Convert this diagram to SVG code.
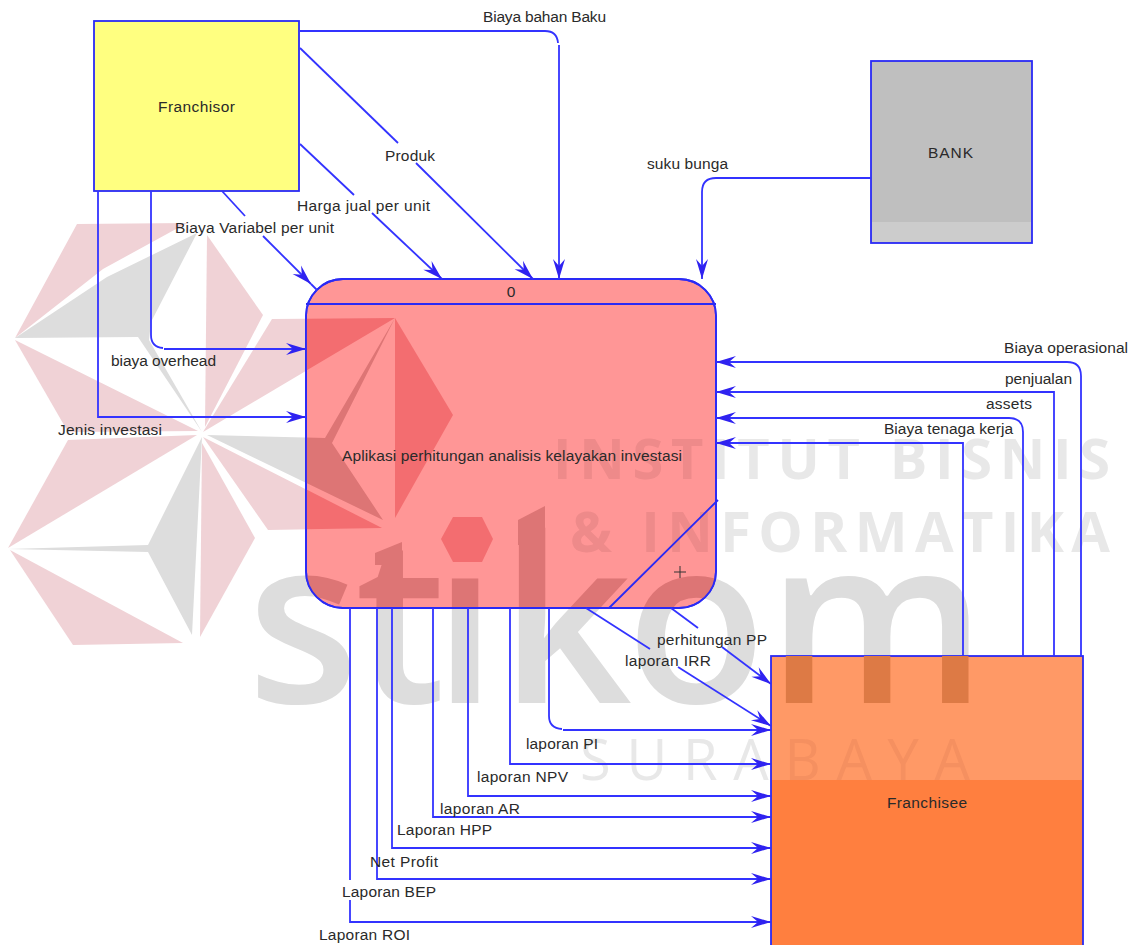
<svg xmlns="http://www.w3.org/2000/svg" width="1133" height="945" viewBox="0 0 1133 945">
<style>
.lbl{font-family:"Liberation Sans",Arial,sans-serif;font-size:15.5px;fill:#2a2a2a;text-anchor:start}
.ctr{text-anchor:middle}
.con{fill:none;stroke:#3333ff;stroke-width:1.8}
.arr{marker-end:url(#arr)}
.box{stroke:#2a2af5;stroke-width:1.8}
.wb{font-family:"Open Sans","DejaVu Sans",sans-serif;font-weight:700;font-size:56px}
.ws{font-family:"Open Sans","DejaVu Sans",sans-serif;font-weight:400;font-size:56px}
.wk{font-family:"Open Sans","DejaVu Sans",sans-serif;font-weight:600;font-size:230px}
</style>
<defs>
<marker id="arr" markerUnits="userSpaceOnUse" markerWidth="22" markerHeight="14" refX="20" refY="7" orient="auto" viewBox="0 0 20 14"><path d="M20,7 L0,1 L7,7 L0,13 Z" fill="#2f22f0"/></marker>
<g id="wm-red">
<polygon points="15,338 77,224 187,223 103,269"/>
<polygon points="207,235 263,315 205,427"/>
<polygon points="272,319 395,318 203,432"/>
<polygon points="15,340 198,431 68,432"/>
<polygon points="68,440 197,435 8,548"/>
<polygon points="203,437 382,528 268,530"/>
<polygon points="395,318 453,415 395,518"/>
<polygon points="202,443 255,538 200,637"/>
<polygon points="10,550 183,643 73,645"/>
<polygon points="441,539 453,517 482,517 493,539 482,562 453,562"/>
</g>
<g id="wm-gray">
<polygon points="15,338 107,277 197,233 151,322 149,340 202,432 138,337"/>
<polygon points="207,435 325,438 395,318 332,443 383,520"/>
<polygon points="202,437 192,635 148,552 8,549 148,545"/>
<text class="wk" x="247 355 433 500 626 767" y="703">stikom</text>
<polygon points="518,520 545,506 545,545 518,545"/>
<polygon points="375,553 402,542 402,565 375,565"/>
</g>
<g id="wm-text">
<text class="wb" x="553" y="479" textLength="557">INSTITUT BISNIS</text>
<text class="wb" x="570" y="552" textLength="540">&amp; INFORMATIKA</text>
<text class="ws" x="580" y="780" textLength="390">SURABAYA</text>
</g>
<clipPath id="cp-proc"><rect x="306" y="279" width="410" height="329" rx="37"/></clipPath>
<clipPath id="cp-fran"><rect x="771" y="656" width="312" height="124"/></clipPath>
</defs>
<rect width="1133" height="945" fill="#fff"/>
<g id="watermark">
<use href="#wm-red" fill="#f0d2d6"/>
<use href="#wm-gray" fill="#dddddd"/>
<use href="#wm-text" fill="#e8e8e8"/>
</g>
<g id="node-franchisor">
<rect class="box" x="94" y="21" width="205" height="170" fill="#ffff80"/>
<text class="lbl" x="158" y="112" textLength="77">Franchisor</text>
</g>
<g id="node-bank">
<rect class="box" x="871" y="61" width="161" height="182" fill="#bfbfbf"/>
<rect x="872" y="222" width="159" height="20" fill="#cccccc"/>
<text class="lbl" x="928" y="158" textLength="45">BANK</text>
</g>
<g id="node-process">
<rect class="box" x="306" y="279" width="410" height="329" rx="37" fill="#ff9696"/>
<g clip-path="url(#cp-proc)">
<use href="#wm-text" fill="#ee8a8a"/>
<use href="#wm-gray" fill="#dd7575"/>
<use href="#wm-red" fill="#f36d70"/>
</g>
<path class="box" fill="none" d="M306,304H716M718,500L609,608"/>
<path fill="none" stroke="#333" stroke-width="1" d="M674,572H686M680,566V578"/>
<rect x="306" y="279" width="410" height="329" rx="37" fill="none" class="box"/>
<text class="lbl ctr" x="511" y="297">0</text>
<text class="lbl" x="342" y="461" textLength="340">Aplikasi perhitungan analisis kelayakan investasi</text>
</g>
<g id="node-franchisee">
<rect class="box" x="771" y="656" width="312" height="300" fill="#ff7f3f"/>
<rect x="772" y="657" width="310" height="123" fill="#ff9966"/>
<g clip-path="url(#cp-fran)">
<use href="#wm-text" fill="#f59060"/>
<use href="#wm-gray" fill="#dd7a45"/>
</g>
<text class="lbl" x="887" y="808" textLength="80">Franchisee</text>
</g>
<g id="connectors">
<path class="con" d="M300,31H545Q557,31 558,43"/><path class="con arr" d="M559,45V279"/>
<path class="con" d="M300,48L398,143"/><path class="con arr" d="M416,163L533,279"/>
<path class="con" d="M300,144L354,195"/><path class="con arr" d="M372,213L442,279"/>
<path class="con" d="M222,191L245,216"/><path class="con arr" d="M263,236L311,284"/><path class="con" d="M311,284L317,290"/>
<path class="con" d="M151,191V335Q151,347 163,348"/><path class="con arr" d="M164,349H306"/>
<path class="con arr" d="M98,191V417H306"/>
<path class="con arr" d="M871,178H716Q702,178 702,192V279"/>
<path class="con arr" d="M1081,656V376Q1081,362 1067,362H716"/>
<path class="con arr" d="M1054,656V392H716"/>
<path class="con arr" d="M1023,656V432Q1023,418 1009,418H716"/>
<path class="con arr" d="M963,656V443H716"/>
<path class="con" d="M671,608L698,628"/><path class="con arr" d="M722,647L771,684"/>
<path class="con" d="M586,608L650,649"/><path class="con arr" d="M678,667L771,726"/>
<path class="con" d="M549,608V716Q549,728 562,729"/><path class="con arr" d="M563,730H771"/>
<path class="con arr" d="M510,608V764H771"/>
<path class="con arr" d="M468,608V796H771"/>
<path class="con arr" d="M433,608V817H771"/>
<path class="con arr" d="M392,608V848H771"/>
<path class="con arr" d="M377,608V879H771"/>
<path class="con" d="M350,608V880"/><path class="con arr" d="M350,900V922H771"/>
</g>
<g id="labels">
<text class="lbl" x="483" y="22" textLength="123">Biaya bahan Baku</text>
<text class="lbl" x="385" y="161" textLength="50">Produk</text>
<text class="lbl" x="297" y="211" textLength="133">Harga jual per unit</text>
<text class="lbl" x="175" y="233" textLength="159">Biaya Variabel per unit</text>
<text class="lbl" x="647" y="169" textLength="81">suku bunga</text>
<text class="lbl" x="111" y="366" textLength="105">biaya overhead</text>
<text class="lbl" x="58" y="435" textLength="104">Jenis investasi</text>
<text class="lbl" x="1004" y="353" textLength="124">Biaya operasional</text>
<text class="lbl" x="1005" y="384" textLength="67">penjualan</text>
<text class="lbl" x="986" y="409" textLength="46">assets</text>
<text class="lbl" x="884" y="434" textLength="129">Biaya tenaga kerja</text>
<text class="lbl" x="657" y="645" textLength="110">perhitungan PP</text>
<text class="lbl" x="625" y="666" textLength="86">laporan IRR</text>
<text class="lbl" x="526" y="749" textLength="72">laporan PI</text>
<text class="lbl" x="477" y="782" textLength="91">laporan NPV</text>
<text class="lbl" x="440" y="814" textLength="80">laporan AR</text>
<text class="lbl" x="397" y="835" textLength="95">Laporan HPP</text>
<text class="lbl" x="370" y="867" textLength="68">Net Profit</text>
<text class="lbl" x="342" y="897" textLength="94">Laporan BEP</text>
<text class="lbl" x="319" y="940" textLength="91">Laporan ROI</text>
</g>
</svg>
